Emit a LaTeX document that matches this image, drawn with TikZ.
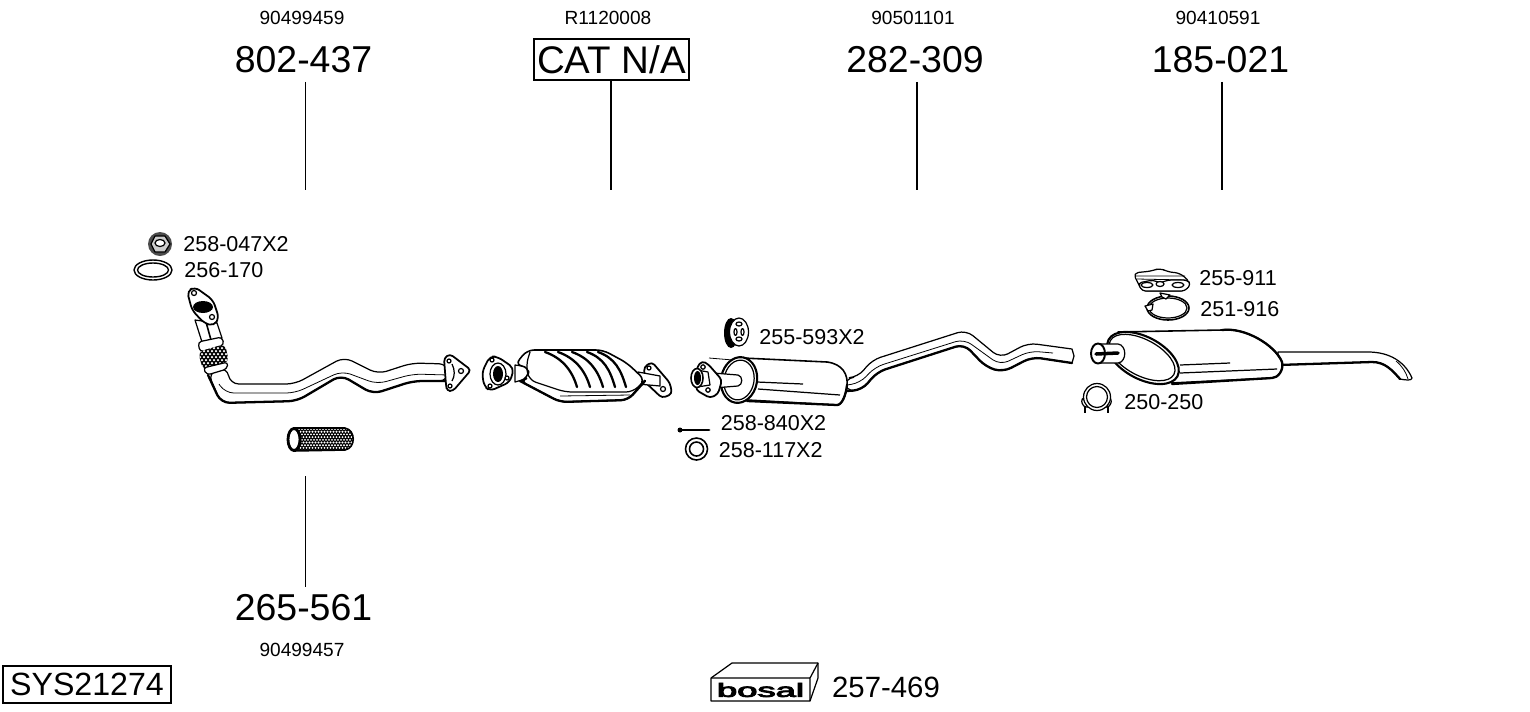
\documentclass[tikz,border=0pt]{standalone}
\usepackage{fontspec}
\usepackage{graphicx}
\setmainfont{Liberation Sans}
\newfontfamily\logofont[FakeBold=4]{Liberation Sans}
\usetikzlibrary{positioning}
\tikzset{
  partno/.style={font=\fontsize{21.3pt}{24pt}\selectfont, inner sep=0pt},
  refno/.style={font=\fontsize{10.85pt}{12pt}\selectfont, inner sep=0pt},
  smallno/.style={font=\fontsize{12.25pt}{14pt}\selectfont, inner sep=0pt, anchor=west},
  leader/.style={line width=0.6pt},
  part/.style={draw=black, fill=white, line width=0.7pt, line join=round},
  heavy/.style={draw=black, line width=1.3pt, line cap=round, line join=round},
  fine/.style={draw=black, line width=0.45pt}
}
\begin{document}
\begin{tikzpicture}[x=0.02cm, y=-0.02cm]
    \useasboundingbox (0,0) rectangle (1530,711);

    % numbers on top, with their leaders
    \node[refno] (ref802) at (302,17.5) {90499459};
    \node[partno] (num802) at (303.5,60) {802-437};
    \node[refno] (refcat) at (608,17.5) {R1120008};
    \node[partno, font=\fontsize{21.9pt}{24pt}\selectfont, draw, line width=0.6pt, minimum width=155*0.02cm, minimum height=41*0.02cm] (numcat) at (611.5,59.5) {CAT N/A};
    \node[refno] (ref282) at (913,17.5) {90501101};
    \node[partno] (num282) at (915,60) {282-309};
    \node[refno] (ref185) at (1218,17.5) {90410591};
    \node[partno] (num185) at (1220.5,60) {185-021};
    \coordinate (end802) at (305.5,190);
    \coordinate (endcat) at (611,190);
    \coordinate (end282) at (917,190);
    \coordinate (end185) at (1222,190);
    \draw[leader] ([yshift=-4.7pt]end802 |- num802.south) -- (end802);
    \draw[leader] (endcat |- numcat.south) -- (endcat);
    \draw[leader] ([yshift=-4.7pt]end282 |- num282.south) -- (end282);
    \draw[leader] ([yshift=-4.7pt]end185 |- num185.south) -- (end185);

    % number below
    \node[partno] (num265) at (303.5,607.5) {265-561};
    \node[refno] (ref265) at (302,649.5) {90499457};
    \coordinate (end265) at (305.5,476);
    \draw[leader] ([yshift=4.2pt]end265 |- num265.north) -- (end265);

    % small parts labels
    \node[smallno] (lbl047) at (183,244.5) {258-047X2};
    \node[smallno] (lbl170) at (184,270.5) {256-170};
    \node[smallno] (lbl593) at (759,337.5) {255-593X2};
    \node[smallno] (lbl840) at (720.5,423.5) {258-840X2};
    \node[smallno] (lbl117) at (718.5,450.5) {258-117X2};
    \node[smallno] (lbl911) at (1199,278.5) {255-911};
    \node[smallno] (lbl916) at (1200,309.5) {251-916};
    \node[smallno] (lbl250) at (1124,402.5) {250-250};

    % system number and box
    \node[draw, line width=0.7pt, inner sep=0pt, minimum width=168*0.02cm, minimum height=37*0.02cm, font=\fontsize{18.3pt}{20pt}\selectfont] (sysno) at (87,684.5) {SYS21274};
    \node[font=\fontsize{16.7pt}{20pt}\selectfont, inner sep=0pt] (num257) at (886,687) {257-469};
    \draw[part] (711,678) -- (732,663) -- (818,663) -- (818,678) -- (810,701) -- (711,701) -- cycle;
    \draw[part, fill=none] (711,678) -- (810,678) -- (818,663) (810,678) -- (810,701);
    \node[inner sep=0pt, font=\fontsize{10.9pt}{12pt}\logofont] (logo) at (760.5,690) {\scalebox{1.9}[1]{bosal}};

    % nut and gasket
    \fill[black!70] (160,244) circle (12);
    \draw[part, fill=black!20] (151,244) -- (155,236) -- (165,236) -- (170,244) -- (165,252) -- (155,252) -- cycle;
    \draw[part, fill=white] (160,243) ellipse [x radius=5, y radius=3.5];
    \draw[part, line width=0.8pt] (153,270) ellipse [x radius=19, y radius=10];
    \draw[part, line width=0.8pt] (153,270) ellipse [x radius=15.5, y radius=7];

    % front pipe
    \draw[part, rounded corners=5pt] (227,367) -- (230,384) -- (295,384) -- (344,357) -- (378,374) -- (412,363) -- (448,364)
        -- (448,381) -- (413,381) -- (373,394) -- (341,375) -- (297,401) -- (221,403) -- (208,373) -- cycle;
    \draw[heavy, rounded corners=5pt] (448,381) -- (413,381) -- (373,394) -- (341,375) -- (297,401) -- (221,403) -- (208,375);
    \draw[fine, rounded corners=5pt] (219,384) -- (225,393) -- (295,393) -- (342,371) -- (377,384) -- (413,374) -- (448,375);
    \draw[part] (195,320) -- (202,342) -- (222,338) -- (217,323) -- cycle;
    \draw[heavy, line width=0.9pt] (206,322) -- (211,340);
    \draw[part, rounded corners=2pt] (198,342) -- (222,337) -- (224,345) -- (200,352) -- cycle;
    \begin{scope}
      \clip[rounded corners=3pt] (198,352) -- (225,344) -- (229,362) -- (203,370) -- cycle;
      \fill[black] (190,340) rectangle (235,375);
      \foreach \i in {0,...,11} \foreach \j in {0,...,9}
        \fill[white] ({194+4*\i+2*mod(\j,2)},{342+3*\j}) circle (1.25);
    \end{scope}
    \draw[part, rounded corners=2pt] (203,368) -- (228,362) -- (227,369) -- (207,375) -- cycle;
    \draw[part, line width=1pt, rounded corners=3pt] (187,291) -- (195,287) -- (213,300) -- (219,318) -- (214,326) -- (204,323) -- (192,310) -- cycle;
    \fill[black] (203,307) ellipse [x radius=10, y radius=6];
    \draw[part] (194,293) circle (2.5) (212,317) circle (2.5);
    % flange at the end of the pipe
    \draw[part, line width=1pt, rounded corners=2pt] (444,358) -- (450,354) -- (471,370) -- (453,391) -- (447,391) -- (446,385) -- cycle;
    \draw[part] (452,364) .. controls (455,370) and (455,376) .. (452,381);
    \draw[part] (449,361) circle (2) (461,371) circle (2.5) (450,386) circle (2);

    % flex tube
    \begin{scope}
      \clip (293,428) -- (345,428) .. controls (356,430) and (356,448) .. (345,450) -- (293,451) -- cycle;
      \fill[black] (285,420) rectangle (360,455);
      \foreach \i in {0,...,20} \foreach \j in {0,...,8}
        \fill[white] ({296+3*\i+1.5*mod(\j,2)},{429+2.7*\j}) circle (1.05);
    \end{scope}
    \draw[part, fill=none, line width=0.9pt] (293,428) -- (345,428) .. controls (356,430) and (356,448) .. (345,450) -- (293,451);
    \draw[part, line width=1.6pt] (294,439.5) ellipse [x radius=6, y radius=11];

    % converter, flanges first
    \draw[part, line width=1pt, rounded corners=2pt] (644,367) -- (652,362) -- (670,383) -- (672,394) -- (662,398) -- (645,382) -- cycle;
    \draw[part] (649,368) circle (2) (663,389) circle (2.5);
    \draw[part] (638,372) -- (660,376) -- (660,386) -- (638,384) -- cycle;
    \draw[part] (515,365) -- (529,367) -- (529,378) -- (515,382) -- cycle;
    \draw[part, line width=0.9pt, rounded corners=4pt] (515,365) -- (527,350) -- (603,350) -- (627,363) -- (645,380) -- (628,400) -- (560,402) -- (520,381) -- (528,378) -- (529,367) -- cycle;
    \draw[fine, line width=0.7pt, rounded corners=4pt] (530,352) -- (526,365) -- (529,380) -- (565,392) -- (633,392) -- (645,380);
    \draw[heavy, rounded corners=4pt] (520,381) -- (560,402) -- (628,400) -- (645,381);
    \draw[fine] (560,396) -- (630,395);
    \foreach \topx/\botx in {545/577, 558/590, 572/603, 587/615, 598/626}
      \draw[heavy] (\topx,352) .. controls ({\topx+17},358) and ({\botx-5},370) .. (\botx,387);
    \draw[part, line width=1pt, rounded corners=3pt] (482,372) -- (490,356) -- (498,357) -- (514,368) -- (510,382) -- (490,391) -- (484,386) -- cycle;
    \draw[part] (498,374) ellipse [x radius=8, y radius=11];
    \fill[black] (498,374) ellipse [x radius=5, y radius=8];
    \draw[part] (492,360) circle (2) (507,378) circle (2) (490,386) circle (2);

    % mounting rubber
    \fill[black] (731,333) ellipse [x radius=7, y radius=15];
    \draw[part] (739,332) ellipse [x radius=9.5, y radius=14];
    \draw[part] (739,324) ellipse [x radius=3, y radius=2] (739,339) ellipse [x radius=3, y radius=2] (735.5,332) ellipse [x radius=1.5, y radius=3.5] (742.5,332) ellipse [x radius=1.5, y radius=3.5];

    % bolt and washer
    \fill[black] (680,430) circle (2.5);
    \draw[heavy, line width=1.6pt] (680,430) -- (709,430);
    \draw[part, line width=0.9pt] (696.5,449) circle (11);
    \draw[part, line width=0.9pt] (696.5,449) circle (7);

    % intermediate pipe, then its silencer
    \draw[part, rounded corners=5pt] (845,378) -- (858,377) -- (872,360) -- (966,330) -- (1000,358) -- (1028,343) [sharp corners] -- (1072,349) -- (1074,356) -- (1072,363) [rounded corners=5pt]
        -- (1032,357) -- (1003,372) -- (986,367) -- (964,344) -- (877,372) -- (862,390) -- (845,391) -- cycle;
    \draw[heavy, rounded corners=5pt] (1072,363) -- (1032,357) -- (1003,372) -- (986,367) -- (964,344) -- (877,372) -- (862,390) -- (847,391);
    \draw[fine, rounded corners=5pt] (847,385) -- (860,383) -- (875,367) -- (964,339) -- (1000,365) -- (1030,351) -- (1053,353);
    \draw[part, line width=0.9pt] (743,358) -- (827,362) .. controls (843,364) and (848,375) .. (847,385) .. controls (846,395) and (842,405) .. (837,405) -- (747,400) -- cycle;
    \draw[heavy] (747,401) -- (837,405) .. controls (842,405) and (846,395) .. (847,385);
    \draw[fine, line width=0.7pt] (757,382) -- (803,384) (758,389) -- (840,395);
    \draw[part, line width=1.2pt, rotate around={-10:(739,380)}] (739,380) ellipse [x radius=18, y radius=23];
    \draw[part, rotate around={-10:(739,380)}] (739,380) ellipse [x radius=15, y radius=20];
    \draw[fine] (709,358) -- (733,360);
    \draw[part] (713,373) -- (738,375) .. controls (743,376) and (743,385) .. (738,386) -- (713,388) -- cycle;
    \draw[part, line width=1pt, rounded corners=2pt] (697,367) -- (702,361) -- (708,364) -- (722,380) -- (718,394) -- (710,398) -- (696,390) -- cycle;
    \draw[part] (703,367) circle (2.2) (708,390) circle (2.2);
    \draw[part] (697,370) -- (708,372) -- (710,385) -- (697,387) -- cycle;
    \draw[part, line width=0.9pt] (697,378) ellipse [x radius=6, y radius=9.5];
    \fill[black] (697.5,378) ellipse [x radius=3.5, y radius=7];

    % rear silencer and tailpipe
    \draw[part] (1278,352) -- (1368,352) .. controls (1390,352) and (1405,362) .. (1412,378) .. controls (1412,381) and (1405,380) .. (1400,379) .. controls (1392,370) and (1385,362) .. (1372,362) -- (1278,365) -- cycle;
    \draw[heavy] (1278,365) -- (1372,362) .. controls (1385,362) and (1392,370) .. (1400,379);
    \draw[fine] (1396,361) .. controls (1402,366) and (1406,372) .. (1408,379);
    \draw[part, line width=0.9pt] (1118,332) -- (1222,330) .. controls (1245,327) and (1275,345) .. (1282,362) .. controls (1284,370) and (1278,378) .. (1272,378) -- (1172,383) -- cycle;
    \draw[heavy] (1222,330) .. controls (1245,327) and (1275,345) .. (1282,362) .. controls (1284,370) and (1278,378) .. (1272,378) -- (1172,384);
    \draw[fine, line width=0.7pt] (1180,365) -- (1230,363) (1180,373) -- (1277,369);
    \draw[part, line width=1.2pt, rotate around={-28:(1143,358)}] (1143,358) ellipse [x radius=39, y radius=21];
    \draw[part, rotate around={-28:(1143,358)}] (1142,358) ellipse [x radius=36, y radius=18];
    \draw[part] (1098,344) -- (1118,344) .. controls (1127,345) and (1127,362) .. (1118,363) -- (1098,363) -- cycle;
    \draw[part, line width=1.1pt] (1098,353.5) ellipse [x radius=7, y radius=10];
    \draw[heavy, line width=2pt] (1096,354) -- (1118,353);

    % clamps and hanger of the rear silencer
    \draw[part, rounded corners=2pt] (1081,398) -- (1112,398) -- (1110,407) -- (1083,407) -- cycle;
    \draw[part] (1097,397) circle (13.5);
    \draw[part] (1097,397) circle (10.5);
    \draw[part, line width=1pt] (1085,407) -- (1085,413) (1108,407) -- (1108,413);
    \draw[part, rounded corners=3pt] (1133,273) -- (1152,271) -- (1160,268) -- (1168,272) -- (1180,273) -- (1191,283) -- (1185,291) -- (1142,291) -- cycle;
    \draw[fine] (1136,276) -- (1185,276) (1137,279) -- (1187,280);
    \draw[part, rounded corners=2pt] (1138,283) -- (1153,280) -- (1160,283) -- (1168,280) -- (1187,280) -- (1191,284) -- (1185,291) -- (1142,291) -- cycle;
    \draw[part] (1147,285) ellipse [x radius=6, y radius=2.5] (1160,284) ellipse [x radius=4, y radius=2.5] (1178,285) ellipse [x radius=6, y radius=2.5];
    \draw[part, fill=none, line width=0.9pt] (1168,308) ellipse [x radius=21, y radius=12];
    \draw[part, fill=none] (1168,308) ellipse [x radius=19, y radius=10];
    \draw[part] (1160,293) -- (1170,295) -- (1166,299) -- (1162,297) -- cycle;
    \draw[part] (1145,306) -- (1153,304) -- (1152,310) -- (1148,311) -- cycle;
\end{tikzpicture}
\end{document}
